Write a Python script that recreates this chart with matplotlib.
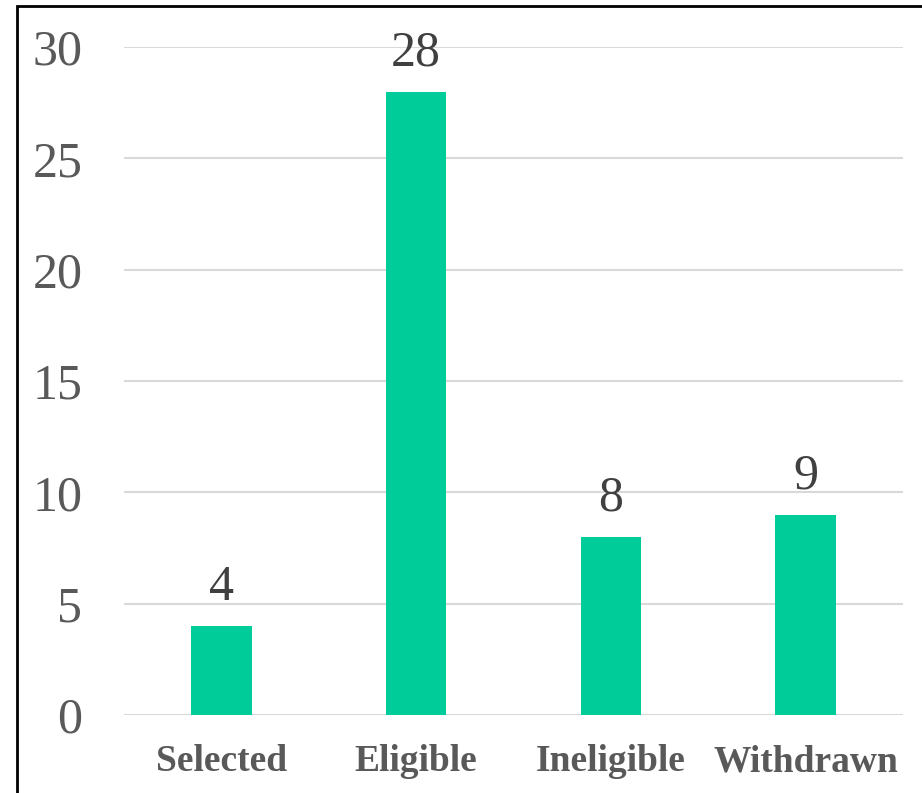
import matplotlib
matplotlib.use("Agg")
import matplotlib.pyplot as plt
from matplotlib.patches import Rectangle
import numpy as np

categories = ["Selected", "Eligible", "Ineligible", "Withdrawn"]
counts = [4, 28, 8, 9]

plt.rcParams['font.family'] = ['Liberation Serif', 'DejaVu Serif']

fig = plt.figure(figsize=(9.22, 7.93), dpi=100)
ax = fig.add_axes([124 / 922, 78 / 793, 779 / 922, 668 / 793])

x = np.arange(len(categories))
bars = ax.bar(x, counts, width=0.31, color="#00CC99", zorder=3)

for rect, v in zip(bars, counts):
    ax.annotate(f"{v}", xy=(rect.get_x() + rect.get_width() / 2, v),
                xytext=(0, 11), textcoords="offset points",
                ha="center", va="bottom", fontsize=36, color="#404040")

ax.set_xlim(-0.5, 3.5)
ax.set_ylim(0, 30)
ax.set_yticks(range(0, 31, 5))
ax.set_xticks(x)
ax.set_xticklabels(categories, fontweight="bold", fontsize=27)
ax.tick_params(axis="y", length=0, pad=30, labelsize=36, labelcolor="#595959")
ax.tick_params(axis="x", length=0, pad=21, labelcolor="#595959")
ax.grid(axis="y", color="#D9D9D9", linewidth=1.5, zorder=0)
for s in ax.spines.values():
    s.set_visible(False)

# frame around the whole chart
fig.patches.append(Rectangle((17 / 922, -0.05), 1.1, 1 - 6 / 793 + 0.05,
                             transform=fig.transFigure, fill=False,
                             edgecolor="black", linewidth=2))

fig.savefig("out.png", dpi=100)
